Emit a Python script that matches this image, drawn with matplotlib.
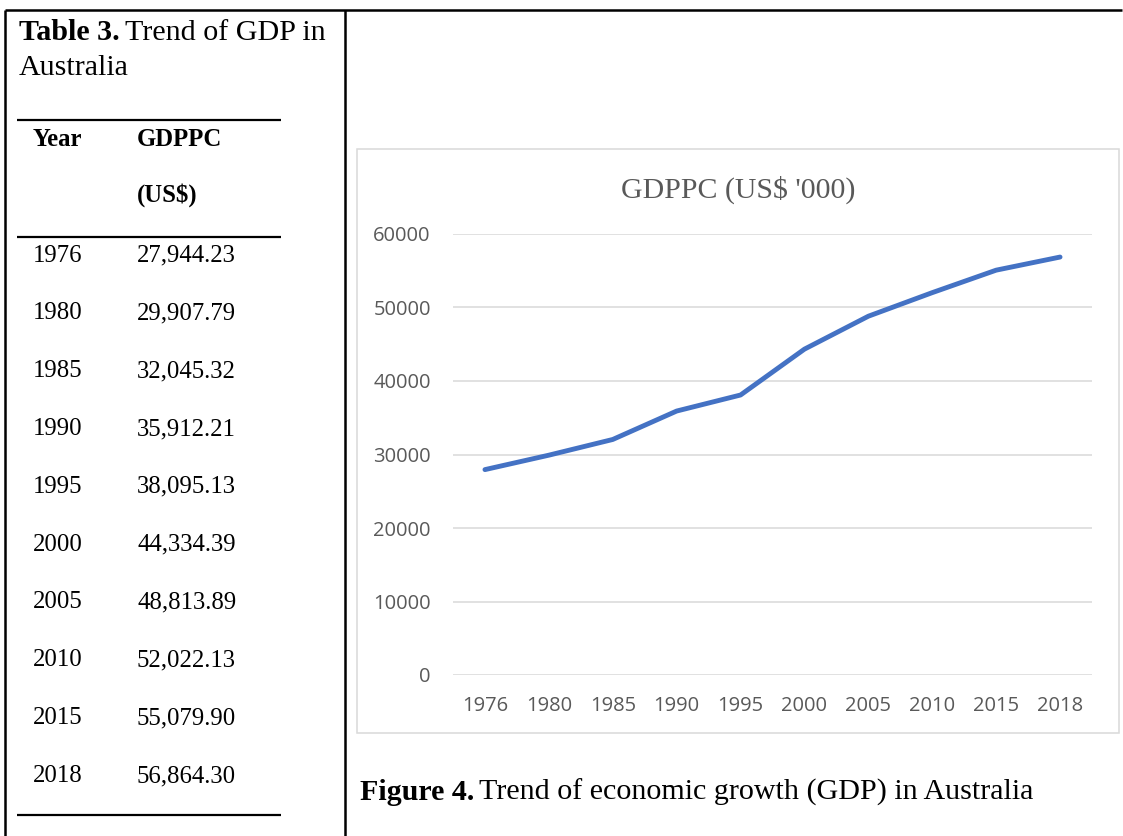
import matplotlib
matplotlib.use("Agg")
import matplotlib.pyplot as plt

# GDP per capita for Australia, US$
years = ["1976", "1980", "1985", "1990", "1995", "2000", "2005", "2010", "2015", "2018"]
gdppc = [27944.23, 29907.79, 32045.32, 35912.21, 38095.13,
         44334.39, 48813.89, 52022.13, 55079.90, 56864.30]
y_ticks = [0, 10000, 20000, 30000, 40000, 50000, 60000]

W, H = 1123, 836
SERIF = "Liberation Serif"
SANS = "Open Sans"
GREY = "#595959"
LINE_BLUE = "#4472C4"
CAPTION_SIZE = 21.6
BODY_SIZE = 17.8

fig = plt.figure(figsize=(W / 100, H / 100), dpi=100)

# page layer in pixel coordinates (y grows downward)
page = fig.add_axes([0, 0, 1, 1])
page.set_xlim(0, W)
page.set_ylim(H, 0)
page.axis("off")

# outer frame of the layout table
page.plot([5, W - 1], [10, 10], color="black", lw=1.8, solid_capstyle="butt")
page.plot([5, 5], [10, H], color="black", lw=1.8, solid_capstyle="butt")
page.plot([345, 345], [10, H], color="black", lw=1.8, solid_capstyle="butt")

renderer = fig.canvas.get_renderer()


def bold_then_plain(x, y, bold, plain, size):
    t = page.text(x, y, bold, fontsize=size, family=SERIF, weight="bold", va="baseline")
    bb = t.get_window_extent(renderer=renderer)
    x_end = bb.x1 / fig.dpi * 100
    page.text(x_end + 5, y, plain, fontsize=size, family=SERIF, va="baseline")


# table caption
bold_then_plain(19, 40, "Table 3.", "Trend of GDP in", CAPTION_SIZE)
page.text(19, 75, "Australia", fontsize=CAPTION_SIZE, family=SERIF, va="baseline")

# table rules
for ry in (120, 237, 815):
    page.plot([17, 281], [ry, ry], color="black", lw=1.6, solid_capstyle="butt")

page.text(33, 146, "Year", fontsize=BODY_SIZE, family=SERIF, weight="bold", va="baseline")
page.text(137, 146, "GDPPC", fontsize=BODY_SIZE, family=SERIF, weight="bold", va="baseline")
page.text(137, 202, "(US$)", fontsize=BODY_SIZE, family=SERIF, weight="bold", va="baseline")

row_step = (781.5 - 261) / (len(years) - 1)
for i, (yr, v) in enumerate(zip(years, gdppc)):
    by = 261.5 + i * row_step
    page.text(33, by, yr, fontsize=BODY_SIZE, family=SERIF, va="baseline")
    page.text(137, by, f"{v:,.2f}", fontsize=BODY_SIZE, family=SERIF, va="baseline")

# chart frame
page.add_patch(plt.Rectangle((357, 149), 1119 - 357, 733 - 149, fill=False,
                             edgecolor="#d9d9d9", lw=1.1))
page.text((357 + 1119) / 2, 198, "GDPPC (US$ '000)", fontsize=21.5, family=SERIF,
          color=GREY, ha="center", va="baseline")

# figure caption
bold_then_plain(360, 800, "Figure 4.", "Trend of economic growth (GDP) in Australia", CAPTION_SIZE)

# line chart
ax = fig.add_axes([453 / W, 1 - 675 / H, (1092 - 453) / W, (675 - 234) / H])
ax.patch.set_alpha(0)
x = list(range(len(years)))
ax.plot(x, gdppc, color=LINE_BLUE, lw=3.5, solid_capstyle="round", solid_joinstyle="round", zorder=3)
ax.set_xlim(-0.5, len(years) - 0.5)
ax.set_ylim(0, 60000)
ax.set_yticks(y_ticks)
ax.set_yticklabels([str(t) for t in y_ticks])
ax.set_xticks(x)
ax.set_xticklabels(years)
ax.grid(axis="y", color="#d9d9d9", lw=1.1)
ax.set_axisbelow(True)
for s in ax.spines.values():
    s.set_visible(False)
ax.tick_params(length=0, labelsize=14.5, labelcolor=GREY)
ax.tick_params(axis="y", pad=16)
ax.tick_params(axis="x", pad=15)
for lbl in ax.get_xticklabels() + ax.get_yticklabels():
    lbl.set_family(SANS)

fig.savefig("out.png", dpi=100, facecolor="white")
